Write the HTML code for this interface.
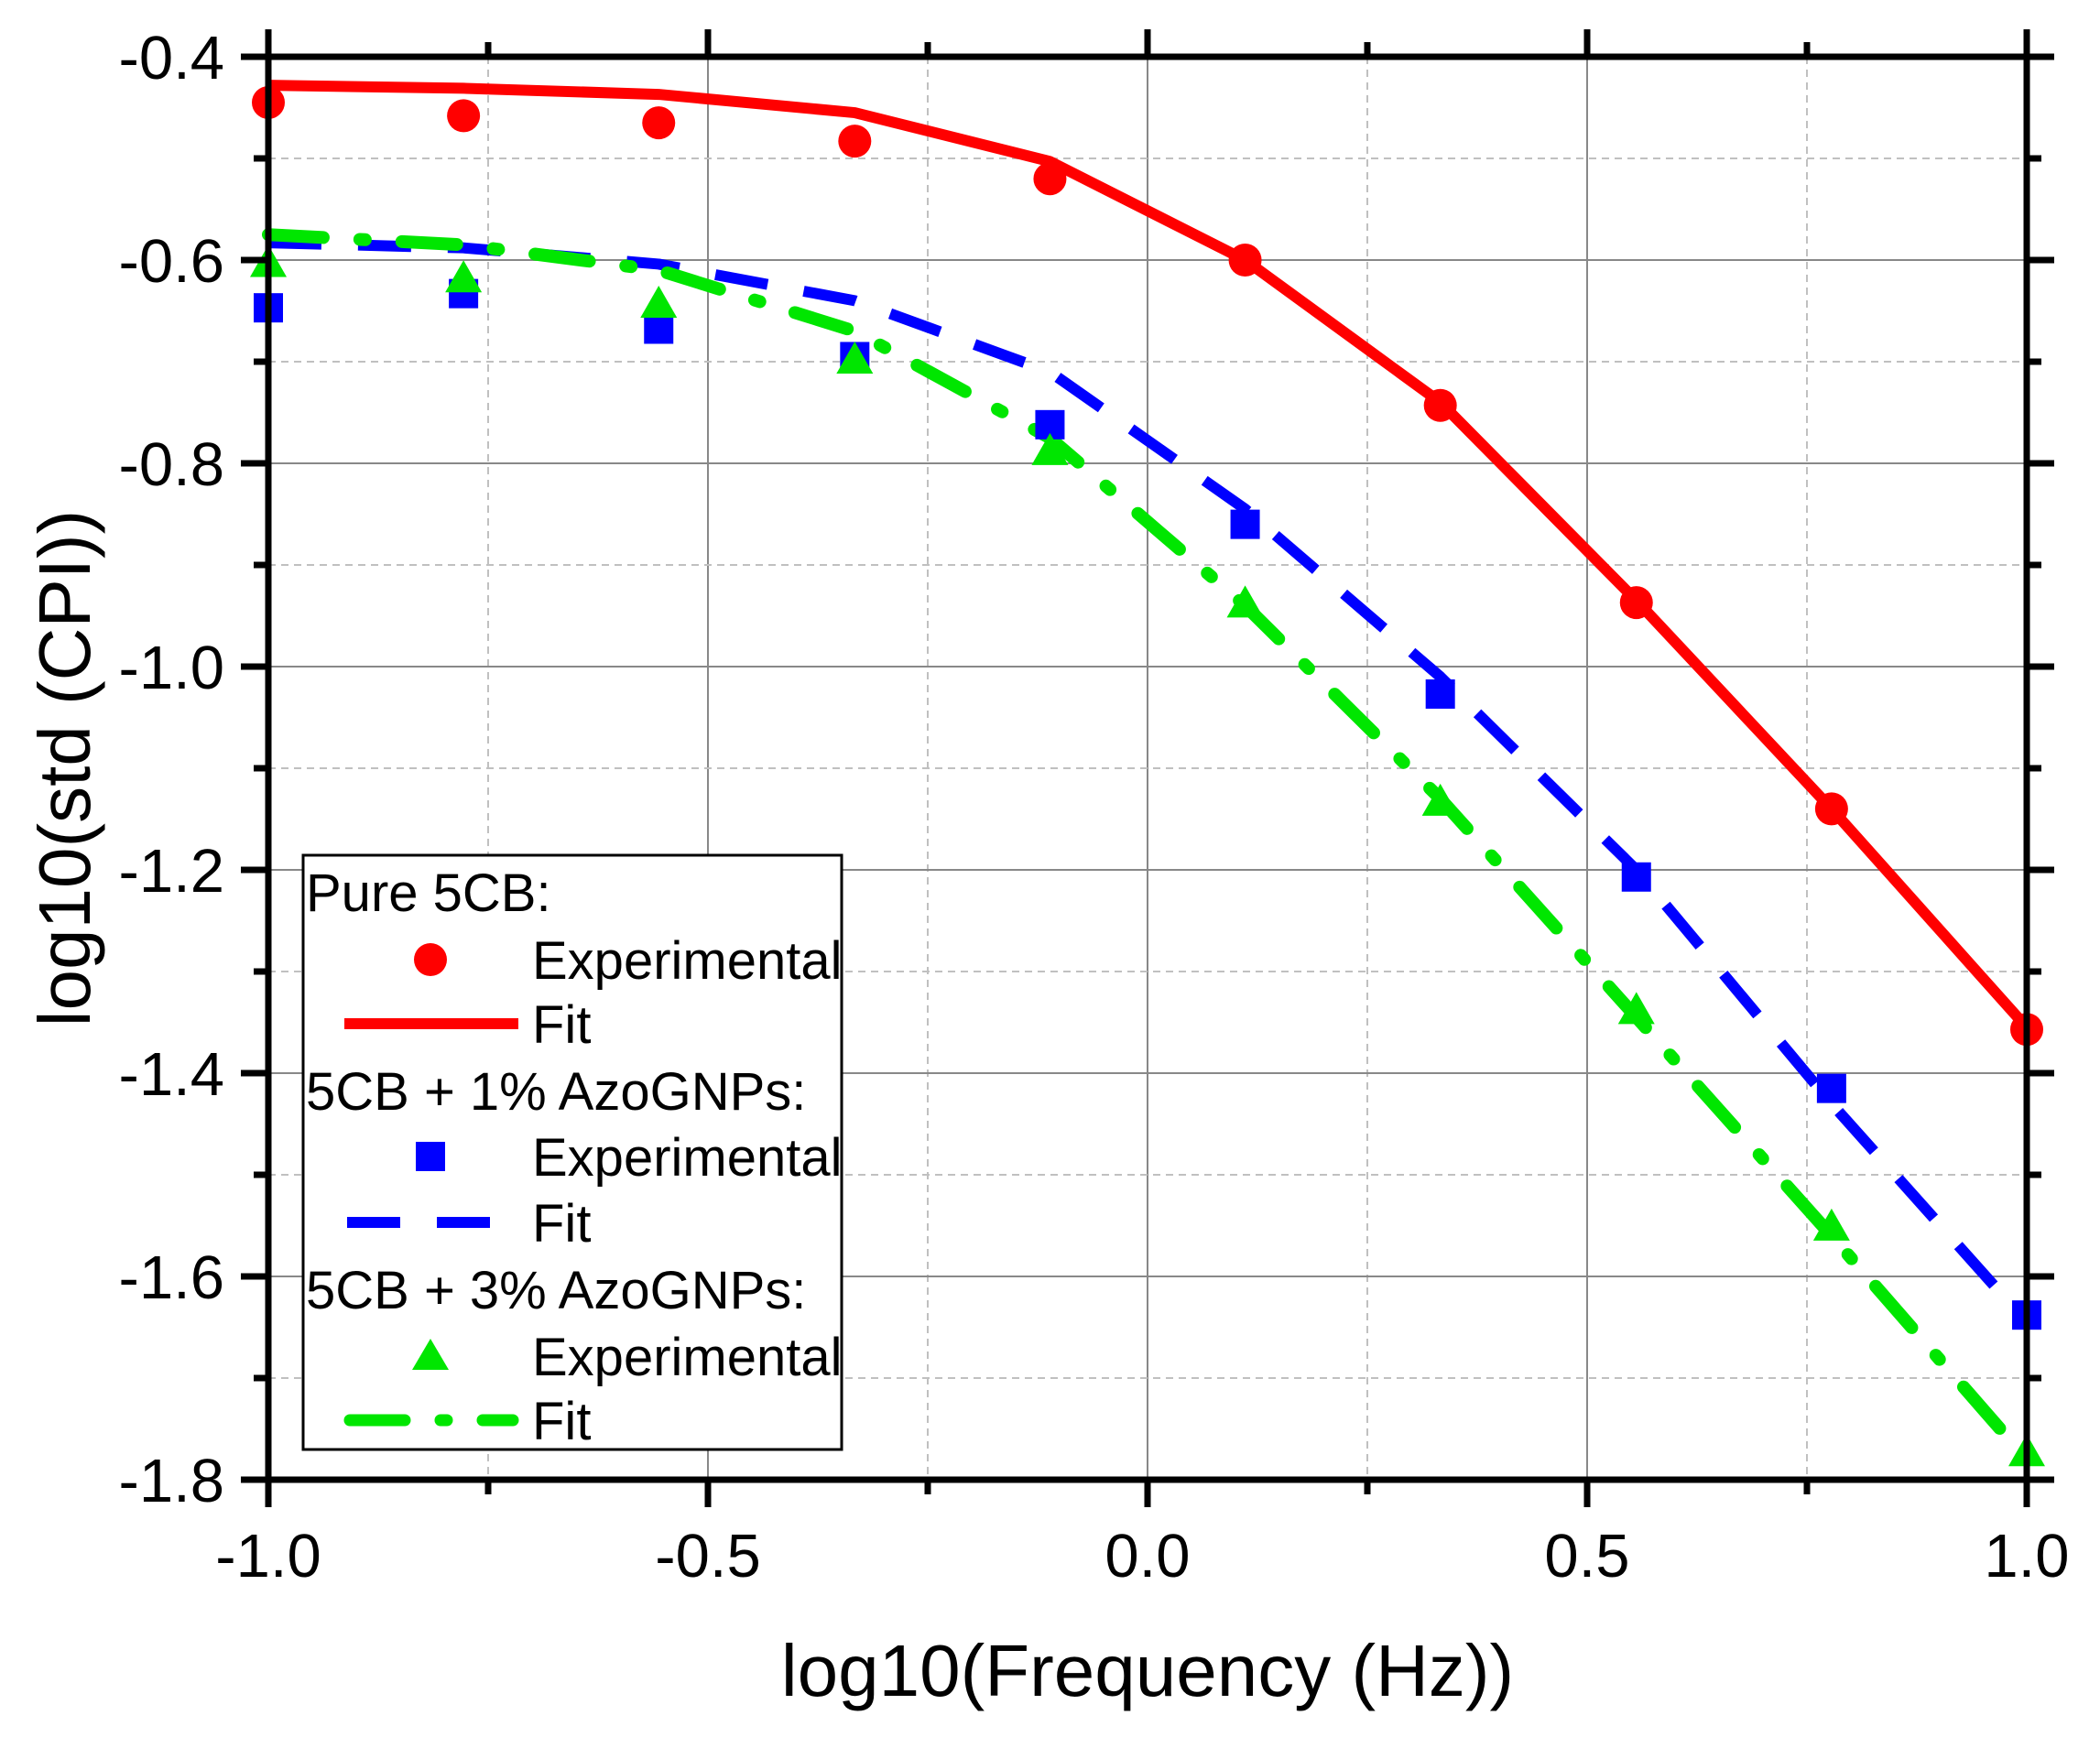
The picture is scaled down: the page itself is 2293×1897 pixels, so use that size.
<!DOCTYPE html>
<html><head><meta charset="utf-8"><style>
html,body{margin:0;padding:0;background:#fff}
svg{display:block}
text{font-family:"Liberation Sans",Arial,sans-serif;fill:#000}
</style></head><body>
<svg id="chart" width="2293" height="1897" viewBox="0 0 2293 1897">
<g id="grid"></g>
<g id="series"></g>
<g id="axes"></g>
<text x="1253" y="1852" font-size="80" text-anchor="middle">log10(Frequency (Hz))</text>
<text transform="translate(98,839) rotate(-90)" font-size="80" text-anchor="middle">log10(std (CPI))</text>
<g id="legend">
<rect x="331" y="934" width="588" height="649" fill="#fff" stroke="#000" stroke-width="3"/>
<text x="334" y="995" font-size="58">Pure 5CB:</text>
<circle cx="470" cy="1048" r="18" fill="#ff0000"/>
<text x="581" y="1069" font-size="58">Experimental</text>
<line x1="376" y1="1118" x2="566" y2="1118" stroke="#ff0000" stroke-width="12"/>
<text x="581" y="1139" font-size="58">Fit</text>
<text x="334" y="1212" font-size="58">5CB + 1% AzoGNPs:</text>
<rect x="454" y="1247" width="32" height="32" fill="#0000ff"/>
<text x="581" y="1284" font-size="58">Experimental</text>
<line x1="376" y1="1335" x2="566" y2="1335" stroke="#0000ff" stroke-width="12" stroke-dasharray="58 40" stroke-dashoffset="-3"/>
<text x="581" y="1356" font-size="58">Fit</text>
<text x="334" y="1429" font-size="58">5CB + 3% AzoGNPs:</text>
<polygon points="470,1462 490,1496 450,1496" fill="#00e600"/>
<text x="581" y="1502" font-size="58">Experimental</text>
<line x1="382" y1="1551" x2="560" y2="1551" stroke="#00e600" stroke-width="13" stroke-linecap="round" stroke-dasharray="60 39 7 39"/>
<text x="581" y="1572" font-size="58">Fit</text>
</g>
</svg>
<script>
const xValues=[-1,-0.778,-0.556,-0.333,-0.111,0.111,0.333,0.556,0.778,1];
const redExp=[-0.445,-0.458,-0.465,-0.483,-0.52,-0.60,-0.743,-0.937,-1.14,-1.357];
const redFit=[-0.428,-0.431,-0.437,-0.455,-0.503,-0.60,-0.74,-0.935,-1.14,-1.355];
const blueExp=[-0.647,-0.633,-0.668,-0.695,-0.762,-0.86,-1.027,-1.207,-1.415,-1.638];
const blueFit=[-0.583,-0.588,-0.604,-0.64,-0.71,-0.845,-1.01,-1.2,-1.43,-1.645];
const greenExp=[-0.605,-0.62,-0.645,-0.70,-0.79,-0.94,-1.135,-1.34,-1.553,-1.775];
const greenFit=[-0.575,-0.585,-0.61,-0.67,-0.775,-0.94,-1.13,-1.345,-1.56,-1.78];
const xTicks=[-1,-0.5,0,0.5,1];
const xTickLabels=["-1.0","-0.5","0.0","0.5","1.0"];
const yTicks=[-0.4,-0.6,-0.8,-1.0,-1.2,-1.4,-1.6,-1.8];
const yTickLabels=["-0.4","-0.6","-0.8","-1.0","-1.2","-1.4","-1.6","-1.8"];

const L=293,R=2213,T=62,B=1616,xmin=-1,xmax=1,ymin=-1.8,ymax=-0.4;
const sx=v=>L+(v-xmin)/(xmax-xmin)*(R-L);
const sy=v=>B-(v-ymin)/(ymax-ymin)*(B-T);
const NS='http://www.w3.org/2000/svg';
function mk(tag,parent,attrs){const e=document.createElementNS(NS,tag);for(const k in attrs)e.setAttribute(k,attrs[k]);parent.appendChild(e);return e;}
const grid=document.getElementById('grid'),axes=document.getElementById('axes'),series=document.getElementById('series');

for(let i=0;i<=8;i++){const v=xmin+i*0.25;const major=i%2===0;
 if(i>0&&i<8){const g=mk('line',grid,{x1:sx(v),x2:sx(v),y1:T,y2:B,stroke:major?'#888':'#c0c0c0','stroke-width':2,'stroke-dasharray':major?'none':'8 6'});
 
 }
 for(const yy of [B,T]){const len=major?30:16;const t=mk('line',axes,{x1:sx(v),x2:sx(v),y1:yy,y2:yy===B?yy+len:yy-len,stroke:'#000','stroke-width':7});
 
 }
}
for(let i=0;i<=14;i++){const v=ymin+i*0.1;const major=i%2===0;
 if(i>0&&i<14){const g=mk('line',grid,{x1:L,x2:R,y1:sy(v),y2:sy(v),stroke:major?'#888':'#c0c0c0','stroke-width':2,'stroke-dasharray':major?'none':'8 6'});
 
 }
 for(const xx of [L,R]){const len=major?30:16;const t=mk('line',axes,{x1:xx,x2:xx===L?xx-len:xx+len,y1:sy(v),y2:sy(v),stroke:'#000','stroke-width':7});
 
 }
}
const frame=mk('rect',axes,{x:L,y:T,width:R-L,height:B-T,fill:'none',stroke:'#000','stroke-width':7});


xTicks.forEach((v,i)=>{const t=mk('text',axes,{x:sx(v),y:1722,'font-size':67,'text-anchor':'middle'});t.textContent=xTickLabels[i];
 
 });
yTicks.forEach((v,i)=>{const t=mk('text',axes,{x:245,y:sy(v)+24,'font-size':67,'text-anchor':'end'});t.textContent=yTickLabels[i];
 
 });

function path(vals,color,dash,name){const d=vals.map((v,i)=>(i?'L':'M')+sx(xValues[i])+','+sy(v)).join(' ');
 const p=mk('path',series,{d:d,fill:'none',stroke:color,'stroke-width':dash==='dashdot'?14:12,'stroke-linejoin':'round','stroke-linecap':dash==='dashdot'?'round':'butt','stroke-dasharray':dash==='solid'?'none':(dash==='dash'?'58 40':'60 40 6 40')});
 
 }
function markers(vals,color,shape,name){vals.forEach((v,i)=>{const x=sx(xValues[i]),y=sy(v);let m;
 if(shape==='circle')m=mk('circle',series,{cx:x,cy:y,r:18,fill:color});
 else if(shape==='square')m=mk('rect',series,{x:x-16,y:y-16,width:32,height:32,fill:color});
 else m=mk('polygon',series,{points:`${x},${y-22} ${x+20},${y+13} ${x-20},${y+13}`,fill:color});
 
 });}
path(redFit,'#ff0000','solid','red-fit-line');
path(blueFit,'#0000ff','dash','blue-fit-line');
path(greenFit,'#00e600','dashdot','green-fit-line');
markers(redExp,'#ff0000','circle','red-exp-point');
markers(blueExp,'#0000ff','square','blue-exp-point');
markers(greenExp,'#00e600','triangle','green-exp-point');
</script>
</body></html>
